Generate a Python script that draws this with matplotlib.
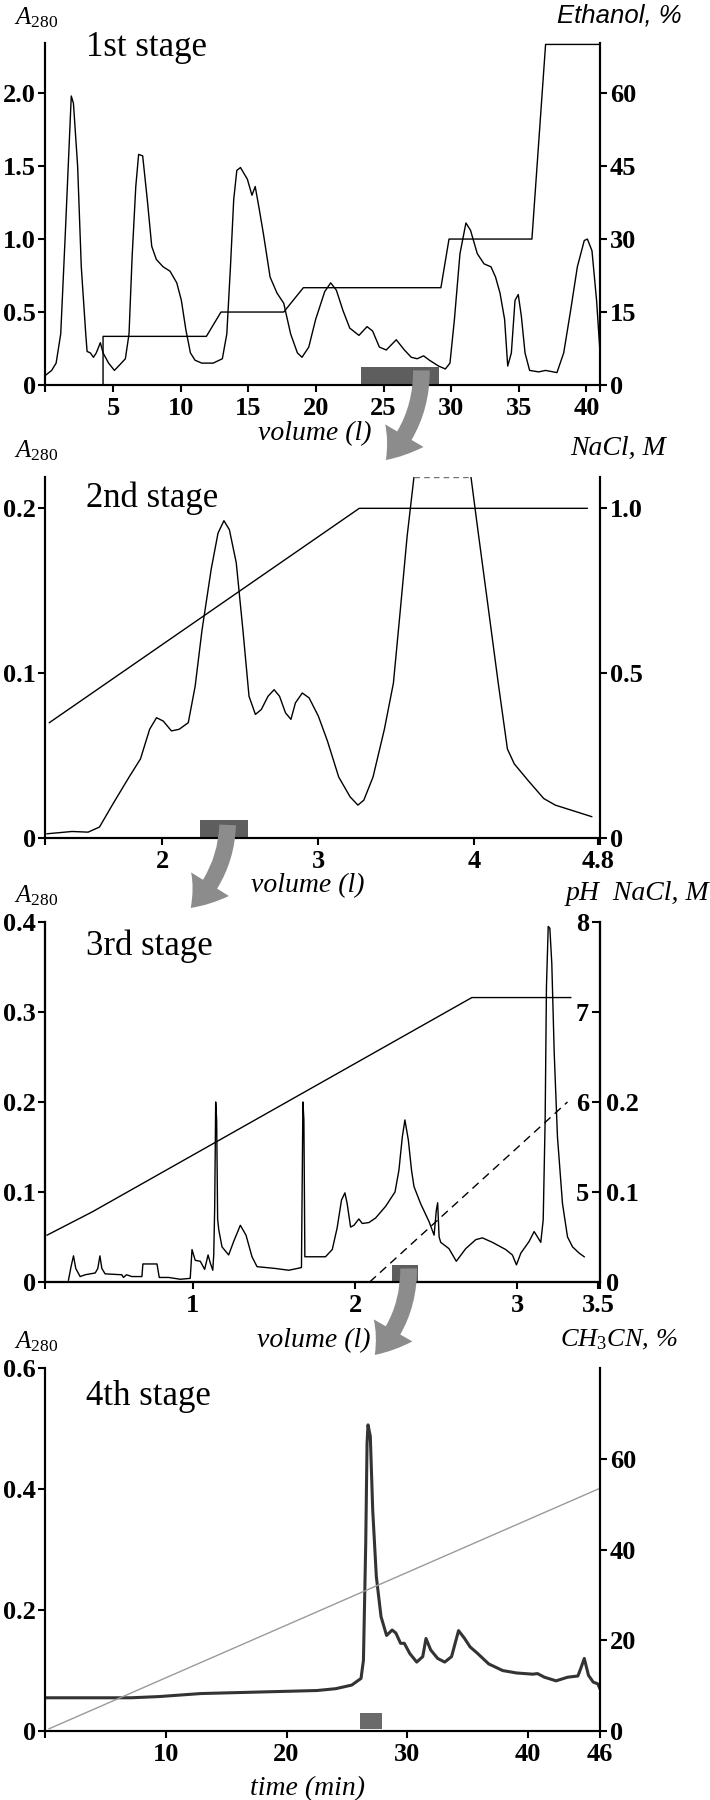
import numpy as np
import matplotlib
matplotlib.use('Agg')
import matplotlib.pyplot as plt
from matplotlib.patches import ConnectionPatch

plt.rcParams['font.family'] = 'Liberation Serif'
plt.rcParams['font.weight'] = 'bold'
plt.rcParams['mathtext.fontset'] = 'custom'
plt.rcParams['mathtext.it'] = 'Liberation Serif:italic:normal'
plt.rcParams['mathtext.rm'] = 'Liberation Serif:normal'
plt.rcParams['axes.linewidth'] = 1.5

# ---- 1st stage: A280 and ethanol step gradient vs volume (l)
vol1 = [0.05, 0.46, 0.79, 1.13, 1.47, 1.91, 2.07, 2.38, 2.65, 2.98,
        3.08, 3.32, 3.55, 3.76, 4.06, 4.26, 4.67, 5.10, 5.51, 5.91,
        6.18, 6.41, 6.68, 6.89, 7.19, 7.53, 7.86, 8.20, 8.70, 9.21,
        9.71, 10.05, 10.38, 10.72, 11.06, 11.56, 12.40, 13.08, 13.41, 13.68,
        13.92, 14.15, 14.42, 14.93, 15.27, 15.51, 15.78, 16.11, 16.61, 17.12,
        17.62, 18.13, 18.63, 18.97, 19.47, 19.98, 20.65, 21.09, 21.51, 22.00,
        22.50, 23.18, 23.78, 24.19, 24.69, 25.20, 25.94, 26.54, 27.05, 27.49,
        27.96, 28.39, 29.07, 29.57, 29.91, 30.24, 30.65, 31.09, 31.43, 31.93,
        32.43, 32.94, 33.28, 33.61, 33.95, 34.18, 34.45, 34.72, 34.96, 35.19,
        35.46, 35.80, 36.47, 36.98, 37.82, 38.32, 38.83, 39.33, 39.84, 40.07,
        40.41, 40.75, 41.0]
a280_1 = [0.07, 0.10, 0.15, 0.35, 1.04, 1.98, 1.93, 1.50, 0.81, 0.35,
          0.23, 0.22, 0.19, 0.22, 0.29, 0.22, 0.15, 0.10, 0.14, 0.18,
          0.35, 0.88, 1.36, 1.58, 1.57, 1.27, 0.95, 0.86, 0.81, 0.78,
          0.70, 0.58, 0.38, 0.22, 0.17, 0.15, 0.15, 0.18, 0.35, 0.81,
          1.27, 1.47, 1.49, 1.41, 1.30, 1.36, 1.22, 1.04, 0.74, 0.63,
          0.56, 0.35, 0.22, 0.19, 0.26, 0.45, 0.64, 0.70, 0.65, 0.51,
          0.39, 0.34, 0.40, 0.37, 0.26, 0.24, 0.31, 0.24, 0.19, 0.18,
          0.20, 0.17, 0.13, 0.11, 0.15, 0.45, 0.90, 1.11, 1.06, 0.90,
          0.83, 0.81, 0.74, 0.63, 0.45, 0.13, 0.22, 0.58, 0.62, 0.47,
          0.22, 0.10, 0.09, 0.10, 0.085, 0.22, 0.51, 0.81, 0.99, 1.00,
          0.92, 0.58, 0.23]
eth_vol = [0.5, 4.26, 4.26, 11.9, 12.98, 17.62, 19.07, 29.24, 29.84, 35.97, 36.98, 41.0]
eth_pct = [0, 0, 10, 10, 15, 15, 20, 20, 30, 30, 70, 70]
frac1 = (23.3, 29.1, 0.125)

# ---- 2nd stage: A280 and NaCl gradient vs volume (l)
vol2 = [1.260, 1.421, 1.524, 1.597, 1.685, 1.787, 1.860, 1.919, 1.963, 2.006,
        2.059, 2.109, 2.167, 2.211, 2.255, 2.314, 2.358, 2.396, 2.431, 2.475,
        2.518, 2.557, 2.598, 2.636, 2.679, 2.718, 2.753, 2.791, 2.826, 2.855,
        2.899, 2.943, 3.002, 3.060, 3.133, 3.206, 3.256, 3.294, 3.353, 3.426,
        3.484, 3.528, 3.572, 3.616, 3.982, 4.026, 4.084, 4.157, 4.216, 4.260,
        4.348, 4.449, 4.523, 4.757]
a280_2 = [0.0026, 0.004, 0.0036, 0.0067, 0.021, 0.037, 0.048, 0.066, 0.073, 0.071,
          0.065, 0.066, 0.070, 0.092, 0.126, 0.163, 0.185, 0.1925, 0.187, 0.167,
          0.126, 0.086, 0.075, 0.078, 0.086, 0.090, 0.086, 0.076, 0.072, 0.082,
          0.088, 0.085, 0.074, 0.059, 0.037, 0.025, 0.020, 0.023, 0.037, 0.066,
          0.094, 0.138, 0.183, 0.219, 0.219, 0.187, 0.146, 0.094, 0.054, 0.045,
          0.035, 0.024, 0.020, 0.013]
off_scale2 = 43  # index where the big peak runs off scale (dashed top)
nacl2_vol = [1.275, 3.265, 4.728]
nacl2_m = [0.35, 1.0, 1.0]
frac2 = (2.24, 2.55, 0.011)

# ---- 3rd stage: A280, NaCl and pH gradients vs volume (l)
vol3 = [0.232, 0.248, 0.263, 0.277, 0.304, 0.335, 0.397, 0.413, 0.426, 0.438,
        0.458, 0.561, 0.571, 0.590, 0.623, 0.685, 0.691, 0.778, 0.792, 0.850,
        0.922, 0.983, 0.994, 1.014, 1.045, 1.072, 1.093, 1.107, 1.122, 1.128,
        1.134, 1.140, 1.146, 1.152, 1.159, 1.179, 1.220, 1.251, 1.292, 1.327,
        1.364, 1.395, 1.508, 1.591, 1.669, 1.678, 1.684, 1.690, 1.704, 1.817,
        1.859, 1.889, 1.916, 1.937, 1.951, 1.972, 1.993, 2.023, 2.044, 2.085,
        2.126, 2.188, 2.246, 2.270, 2.291, 2.307, 2.328, 2.348, 2.363, 2.404,
        2.456, 2.487, 2.501, 2.509, 2.518, 2.528, 2.579, 2.624, 2.682, 2.744,
        2.785, 2.847, 2.929, 2.970, 2.995, 3.022, 3.073, 3.104, 3.125, 3.145,
        3.160, 3.172, 3.180, 3.191, 3.201, 3.213, 3.228, 3.248, 3.279, 3.310,
        3.341, 3.382, 3.413]
a280_3 = [0.002, 0.017, 0.029, 0.015, 0.006, 0.008, 0.010, 0.015, 0.029, 0.015,
          0.009, 0.008, 0.005, 0.008, 0.006, 0.006, 0.020, 0.020, 0.005, 0.005,
          0.003, 0.004, 0.036, 0.024, 0.023, 0.014, 0.030, 0.021, 0.013, 0.030,
          0.084, 0.200, 0.180, 0.070, 0.058, 0.039, 0.030, 0.045, 0.063, 0.052,
          0.028, 0.017, 0.015, 0.013, 0.016, 0.200, 0.180, 0.028, 0.028, 0.028,
          0.036, 0.060, 0.091, 0.099, 0.087, 0.061, 0.063, 0.070, 0.065, 0.066,
          0.071, 0.084, 0.100, 0.124, 0.161, 0.180, 0.158, 0.124, 0.106, 0.087,
          0.067, 0.052, 0.080, 0.088, 0.050, 0.044, 0.037, 0.023, 0.037, 0.047,
          0.049, 0.044, 0.036, 0.030, 0.019, 0.032, 0.045, 0.056, 0.050, 0.044,
          0.069, 0.180, 0.328, 0.395, 0.393, 0.354, 0.254, 0.161, 0.087, 0.050,
          0.039, 0.032, 0.028]
nacl3_vol = [0.10, 0.38, 2.72, 3.33]
nacl3_m = [0.052, 0.078, 0.316, 0.316]
ph3_vol = [2.09, 3.31]
ph3 = [4.0, 6.0]
frac3 = (2.23, 2.39, 0.019)

# ---- 4th stage: A280 and acetonitrile gradient vs time (min)
time4 = [0, 7.12, 9.43, 12.9, 18.68, 22.53, 24.07, 25.41, 26.18, 26.38,
         26.57, 26.68, 26.76, 26.95, 27.15, 27.45, 27.84, 28.3, 28.76, 29.07,
         29.46, 29.77, 30.23, 30.8, 31.3, 31.57, 31.96, 32.54, 33.12, 33.69,
         34.27, 34.77, 35.23, 35.81, 36.77, 37.93, 39.08, 40.43, 40.82, 41.39,
         42.36, 43.32, 44.17, 44.40, 44.70, 45.05, 45.44, 45.82, 46.0]
a280_4 = [0.055, 0.055, 0.057, 0.062, 0.065, 0.067, 0.070, 0.076, 0.087, 0.117,
          0.31, 0.476, 0.506, 0.487, 0.365, 0.255, 0.189, 0.158, 0.167, 0.162,
          0.145, 0.145, 0.128, 0.114, 0.123, 0.153, 0.134, 0.120, 0.114, 0.123,
          0.166, 0.153, 0.139, 0.129, 0.111, 0.100, 0.096, 0.094, 0.095, 0.089,
          0.083, 0.089, 0.091, 0.103, 0.120, 0.092, 0.081, 0.078, 0.070]
acn_time = [0.3, 46.0]
acn_pct = [0.5, 53.5]
frac4 = (26.1, 27.9, 0.003, 0.030)

# tick values / labels
x1_ticks = [5, 10, 15, 20, 25, 30, 35, 40]
y1_ticks, y1_labels = [0, 0.5, 1.0, 1.5, 2.0], ['0', '0.5', '1.0', '1.5', '2.0']
r1_ticks = [0, 15, 30, 45, 60]
x2_ticks, x2_labels = [2, 3, 4, 4.8], ['2', '3', '4', '4.8']
y2_ticks, y2_labels = [0, 0.1, 0.2], ['0', '0.1', '0.2']
r2_ticks, r2_labels = [0, 0.5, 1.0], ['0', '0.5', '1.0']
x3_ticks, x3_labels = [1, 2, 3, 3.5], ['1', '2', '3', '3.5']
y3_ticks, y3_labels = [0, 0.1, 0.2, 0.3, 0.4], ['0', '0.1', '0.2', '0.3', '0.4']
ph_ticks = [5, 6, 7, 8]
r3_ticks, r3_labels = [0, 0.1, 0.2], ['0', '0.1', '0.2']
x4_ticks = [10, 20, 30, 40, 46]
y4_ticks, y4_labels = [0, 0.2, 0.4, 0.6], ['0', '0.2', '0.4', '0.6']
r4_ticks = [0, 20, 40, 60]

FS = 19
fig = plt.figure(figsize=(7.1, 18), dpi=100)
L, W = 0.064, 0.781
ax1 = fig.add_axes([L, 0.7861, W, 0.190])
ax2 = fig.add_axes([L, 0.5344, W, 0.2006])
ax3 = fig.add_axes([L, 0.2878, W, 0.200])
ax4 = fig.add_axes([L, 0.0383, W, 0.2017])


def style(ax):
    ax.spines['top'].set_visible(False)
    ax.tick_params(which='both', direction='out', length=5, width=1.5,
                   labelsize=FS, pad=2)
    ax.tick_params(axis='x', pad=3.5)


def decorate(ax, title, title_y, right_text, right_x, right_kw, xlabel, xl_pos):
    ax.text(-0.057, 1.055, r'$\mathit{A}_{\mathit{280}}$', transform=ax.transAxes,
            fontsize=18, ha='left', va='baseline')
    ax.text(0.073, title_y, title, transform=ax.transAxes, fontsize=25,
            fontweight='normal', va='baseline')
    ax.text(right_x, 1.06, right_text, transform=ax.transAxes, ha='right',
            va='baseline', **right_kw)
    ax.set_xlabel(xlabel, fontsize=20, fontstyle='italic', fontweight='normal')
    ax.xaxis.set_label_coords(*xl_pos)
    ax.set_xticks(ax.get_xlim(), minor=True)


serif_it = dict(fontsize=20, fontstyle='italic', fontweight='normal')

# ---- panel 1
ax1.plot(vol1, a280_1, color='black', lw=1.0)
ax1.bar(frac1[0], frac1[2], width=frac1[1] - frac1[0], align='edge',
        color='#5e5e5e', zorder=3)
ax1.set_xlim(0, 41)
ax1.set_ylim(0, 2.343)
ax1.set_xticks(x1_ticks)
ax1.set_yticks(y1_ticks, y1_labels)
ax1r = ax1.twinx()
ax1r.plot(eth_vol, eth_pct, color='black', lw=1.0)
ax1r.set_ylim(0, 2.343 * 30)
ax1r.set_yticks(r1_ticks)
for a in (ax1, ax1r):
    style(a)
decorate(ax1, '1st stage', 0.962, 'Ethanol, %', 1.148,
         dict(fontsize=18.5, fontstyle='italic', fontweight='normal',
              family='Liberation Sans'),
         'volume (l)', (0.486, -0.105))

# ---- panel 2
k = off_scale2
ax2.plot(vol2[:k + 1], a280_2[:k + 1], color='black', lw=1.0)
ax2.plot(vol2[k + 1:], a280_2[k + 1:], color='black', lw=1.0)
ax2.plot(vol2[k:k + 2], a280_2[k:k + 2], color='0.45', lw=1.0, ls=(0, (4, 3)))
ax2.bar(frac2[0], frac2[2], width=frac2[1] - frac2[0], align='edge',
        color='#5e5e5e', zorder=3)
ax2.set_xlim(1.25, 4.81)
ax2.set_ylim(0, 0.219)
ax2.set_xticks(x2_ticks, x2_labels)
ax2.set_yticks(y2_ticks, y2_labels)
ax2r = ax2.twinx()
ax2r.plot(nacl2_vol, nacl2_m, color='black', lw=1.0)
ax2r.set_ylim(0, 0.219 * 5)
ax2r.set_yticks(r2_ticks, r2_labels)
for a in (ax2, ax2r):
    style(a)
decorate(ax2, '2nd stage', 0.917, 'NaCl, M', 1.119, serif_it,
         'volume (l)', (0.473, -0.097))

# ---- panel 3
ax3.plot(vol3, a280_3, color='black', lw=1.0)
ax3.plot(nacl3_vol, nacl3_m, color='black', lw=1.0)
ax3.bar(frac3[0], frac3[2], width=frac3[1] - frac3[0], align='edge',
        color='#5e5e5e', zorder=3)
ax3.set_xlim(0.09, 3.51)
ax3.set_ylim(0, 0.4)
ax3.set_xticks(x3_ticks, x3_labels)
ax3.set_yticks(y3_ticks, y3_labels)
ax3n = ax3.twinx()
ax3n.set_ylim(0, 0.4)
ax3n.set_yticks(r3_ticks, r3_labels)
ax3p = ax3.twinx()
ax3p.plot(ph3_vol, ph3, color='black', lw=1.0, ls=(0, (6, 4)))
ax3p.set_ylim(4, 8)
ax3p.set_yticks(ph_ticks)
for a in (ax3, ax3n, ax3p):
    style(a)
ax3n.tick_params(axis='y', length=0, pad=4)
ax3p.tick_params(axis='y', direction='in', length=6, pad=-8)
plt.setp(ax3p.get_yticklabels(), ha='right')
decorate(ax3, '3rd stage', 0.908, 'pH  NaCl, M', 1.197, serif_it,
         'volume (l)', (0.484, -0.128))

# ---- panel 4
ax4.plot(time4, a280_4, color='#333333', lw=2.2)
ax4.bar(frac4[0], frac4[3] - frac4[2], width=frac4[1] - frac4[0],
        bottom=frac4[2], align='edge', color='#6a6a6a', zorder=3)
ax4.set_xlim(0, 46)
ax4.set_ylim(0, 0.6)
ax4.set_xticks(x4_ticks)
ax4.set_yticks(y4_ticks, y4_labels)
ax4r = ax4.twinx()
ax4r.plot(acn_time, acn_pct, color='#9a9a9a', lw=1.0)
ax4r.set_ylim(0, 80)
ax4r.set_yticks(r4_ticks)
for a in (ax4, ax4r):
    style(a)
decorate(ax4, '4th stage', 0.898, r'CH$_{\mathit{3}}$CN, %', 1.139,
         dict(fontsize=19, fontstyle='italic', fontweight='normal'),
         'time (min)', (0.473, -0.124))

# ---- curved arrows linking each collected fraction to the next stage
arrow_style = 'simple,head_width=1.6,head_length=1.1,tail_width=0.6'
links = [(ax1, (27.8, 0.10), ax2, (0.614, 1.047)),
         (ax2, (2.42, 0.008), ax3, (0.262, 1.039)),
         (ax3, (2.33, 0.015), ax4, (0.594, 1.036))]
for axa, pa, axb, pb in links:
    con = ConnectionPatch(xyA=pa, coordsA='data', axesA=axa,
                          xyB=pb, coordsB='axes fraction', axesB=axb,
                          arrowstyle=arrow_style, mutation_scale=20,
                          connectionstyle='arc3,rad=-0.2',
                          color='#8c8c8c', lw=0, shrinkA=0, shrinkB=0,
                          zorder=10)
    fig.add_artist(con)

fig.savefig('out.png', dpi=100)
